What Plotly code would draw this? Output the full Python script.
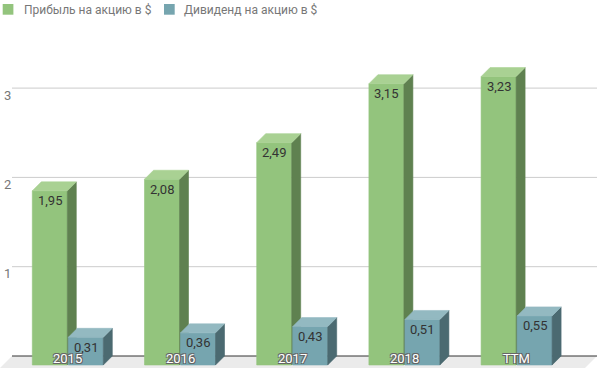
import plotly.graph_objects as go

# ---- data ----
categories = ["2015", "2016", "2017", "2018", "TTM"]
eps_values = [1.95, 2.08, 2.49, 3.15, 3.23]
dividend_values = [0.31, 0.36, 0.43, 0.51, 0.55]
series_names = ["Прибыль на акцию в $", "Дивиденд на акцию в $"]
y_tick_values = [1, 2, 3]

# ---- style / geometry constants ----
W, H = 597, 368
PX = 112.2          # px per category
PY = 89.3           # px per value unit
ZERO_PX = 356       # pixel row of back-plane zero
TOP_MARGIN = 30
C0_PX = 67.8        # pixel of first group center (front plane)
DEPTH = 9           # px depth of 3D effect
BAR_W = 35          # px bar front width
GAP = 0.5           # px half gap between bars

dx = DEPTH / PX
dy = DEPTH / PY
w = BAR_W / PX
g = GAP / PX

x0 = -C0_PX / PX
x1 = (W - C0_PX) / PX
y0 = (ZERO_PX - H) / PY
y1 = (ZERO_PX - TOP_MARGIN) / PY

styles = [
    dict(front="#93c47d", side="#5f8150", top="#a9d193", offset=-(g + w)),
    dict(front="#76a5af", side="#4b6a71", top="#93b9c1", offset=g),
]

fig = go.Figure()


def add_poly(xs, ys, color):
    fig.add_trace(go.Scatter(
        x=xs, y=ys, mode="lines", fill="toself", fillcolor=color,
        line=dict(color=color, width=0.6), hoverinfo="skip", showlegend=False,
    ))


annotations = []
for values, st in zip([eps_values, dividend_values], styles):
    fx, fy, sx, sy, tx, ty = [], [], [], [], [], []
    for i, v in enumerate(values):
        xl = i + st["offset"]
        xr = xl + w
        # front face
        fx += [xl, xr, xr, xl, xl, None]
        fy += [-dy, -dy, v - dy, v - dy, -dy, None]
        # side face
        sx += [xr, xr + dx, xr + dx, xr, xr, None]
        sy += [-dy, 0, v, v - dy, -dy, None]
        # top face
        tx += [xl, xr, xr + dx, xl + dx, xl, None]
        ty += [v - dy, v - dy, v, v, v - dy, None]
        annotations.append(dict(
            x=(xl + xr) / 2, y=v - dy, xref="x", yref="y",
            text=f"{v:.2f}".replace(".", ","), showarrow=False,
            yanchor="middle", yshift=-10,
            font=dict(family="Roboto", size=13, color="#333333"),
        ))
    add_poly(fx, fy, st["front"])
    add_poly(sx, sy, st["side"])
    add_poly(tx, ty, st["top"])

# category labels
for i, c in enumerate(categories):
    annotations.append(dict(
        x=i, y=0, xref="x", yref="y", text=c, showarrow=False,
        yanchor="middle", yshift=-2.5,
        font=dict(family="Roboto", size=13, color="#ffffff",
                  shadow="-1px -1px 0 #666, 1px -1px 0 #666, -1px 1px 0 #666, 1px 1px 0 #666"),
    ))

# y tick labels
for t in y_tick_values:
    annotations.append(dict(
        x=7 / W, y=t, xref="paper", yref="y", text=str(t), showarrow=False,
        xanchor="center", yanchor="middle", yshift=-7,
        font=dict(family="Roboto", size=13, color="#777777"),
    ))


def py(p):  # pixel row -> paper y
    return (H - p) / (H - TOP_MARGIN)


# legend (manual)
legend_items = [(2.7, 22.0, styles[0]["front"]), (164.0, 182.0, styles[1]["front"])]
shapes = []
for (sq_x, tx_x, col), name in zip(legend_items, series_names):
    shapes.append(dict(type="rect", xref="paper", yref="paper",
                       x0=sq_x / W, x1=(sq_x + 10.7) / W, y0=py(14.7), y1=py(4),
                       fillcolor=col, line=dict(width=0)))
    annotations.append(dict(
        x=tx_x / W, y=py(9.5), xref="paper", yref="paper", text=name,
        showarrow=False, xanchor="left", yanchor="middle",
        font=dict(family="Roboto", size=12, color="#777777"),
    ))

# floor
fl = -20 / PY
floor_path = (f"M {12 / W},0 L 1,0 L {(W - 20) / W},{fl} L {-8 / W},{fl} Z")
shapes.append(dict(type="path", xref="paper", yref="y", path=floor_path,
                   fillcolor="#ebebeb", line=dict(width=0), layer="below"))
# gridlines
for t in y_tick_values:
    shapes.append(dict(type="line", xref="paper", yref="y", x0=12 / W, x1=1,
                       y0=t, y1=t, line=dict(color="#cccccc", width=1), layer="below"))
shapes.append(dict(type="line", xref="paper", yref="y", x0=12 / W, x1=1,
                   y0=0, y1=0, line=dict(color="#333333", width=1), layer="below"))

fig.update_layout(
    width=W, height=H, autosize=False,
    margin=dict(l=0, r=0, t=TOP_MARGIN, b=0, pad=0),
    paper_bgcolor="white", plot_bgcolor="white",
    xaxis=dict(range=[x0, x1], visible=False, fixedrange=True),
    yaxis=dict(range=[y0, y1], visible=False, fixedrange=True),
    showlegend=False,
    shapes=shapes, annotations=annotations,
    font=dict(family="Roboto"),
)

fig.write_html("out.html", config={"displayModeBar": False},
               post_script="document.body.style.margin='0';document.body.style.overflow='hidden';")
